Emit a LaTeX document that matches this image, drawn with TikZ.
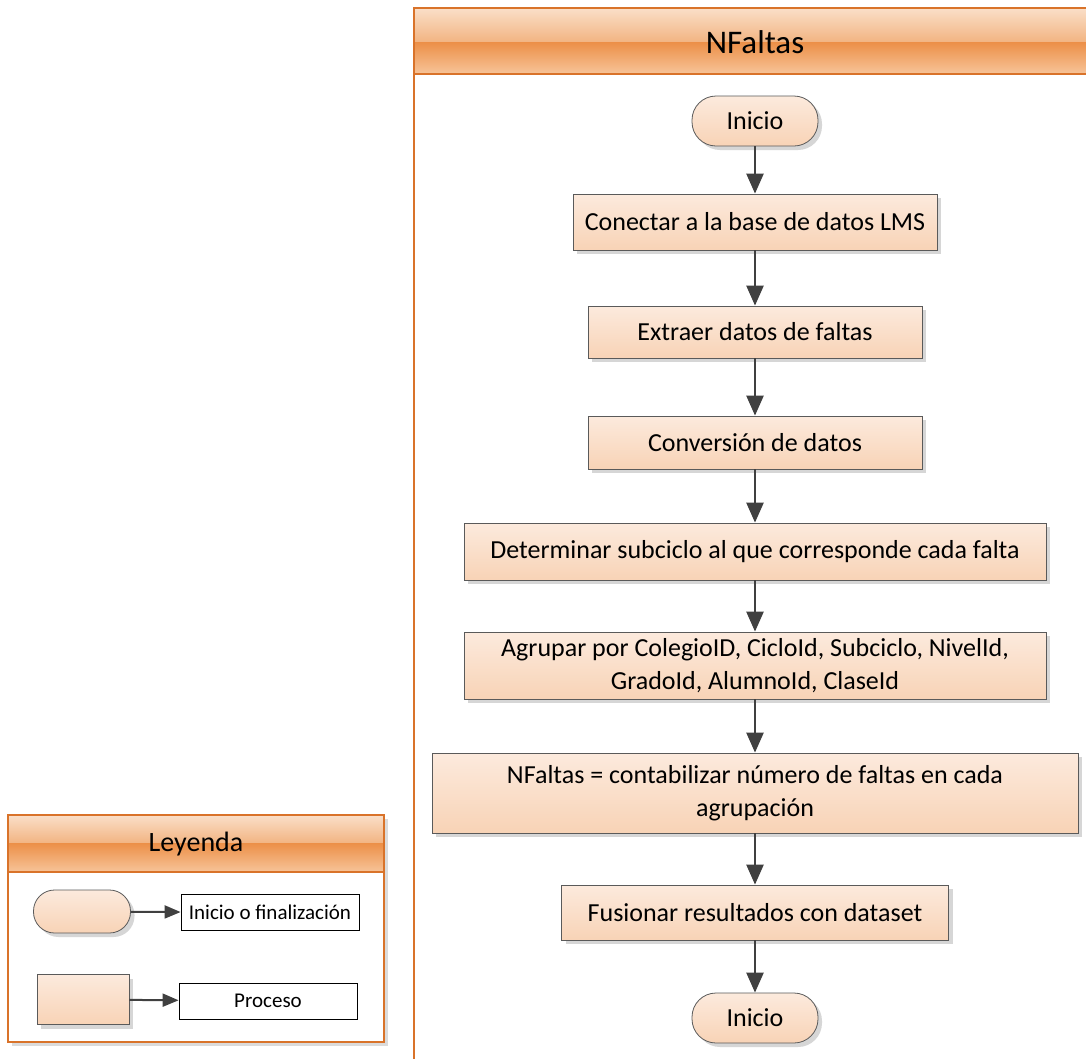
\documentclass[tikz,border=0pt]{standalone}
\usepackage{fontspec}
\setmainfont{Carlito}
\usetikzlibrary{arrows.meta,shadows}
\definecolor{boxtop}{HTML}{FCEADD}
\definecolor{boxbot}{HTML}{F8D3B6}
\definecolor{poolline}{HTML}{D9732A}
\definecolor{hdrA}{HTML}{FADFC8}
\definecolor{hdrB}{HTML}{F2B482}
\definecolor{hdrC}{HTML}{EC8F47}
\definecolor{hdrD}{HTML}{F7C499}
\definecolor{edgegray}{HTML}{404040}
\definecolor{framegray}{HTML}{5A5A5A}
\begin{document}
\begin{tikzpicture}[x=1pt,y=-1pt,
  proc/.style={draw=framegray, line width=0.8pt, top color=boxtop, bottom color=boxbot,
    align=center, font=\fontsize{26}{33}\selectfont, inner sep=0pt,
    general shadow={fill=black!16, shadow xshift=4pt, shadow yshift=-4pt}},
  term/.style={proc, rounded corners=24pt, minimum width=126pt, minimum height=50pt},
  flow/.style={draw=edgegray, line width=2.5pt, -{Triangle[width=17pt,length=20pt]}},
  lflow/.style={draw=edgegray, line width=2pt, -{Triangle[width=13pt,length=16pt]}},
  labelbox/.style={draw=black, line width=0.8pt, fill=white, minimum width=178pt,
    minimum height=36pt, inner sep=0pt, font=\fontsize{21}{25}\selectfont},
  hdrtext/.style={inner sep=0pt}
]
\useasboundingbox (0,0) rectangle (1086,1058);
\fill[white] (0,0) rectangle (1086,1058);

% ---- swimlane NFaltas ----
\shade[top color=hdrA, bottom color=hdrB] (414,8) rectangle (1092,42);
\shade[top color=hdrC, bottom color=hdrD] (414,42) rectangle (1092,74);
\draw[poolline, line width=2pt] (414,1062) -- (414,8) -- (1092,8);
\draw[poolline, line width=2pt] (414,74) -- (1092,74);
\node[hdrtext, font=\fontsize{33}{38}\selectfont] (pooltitle) at (755,42) {NFaltas};

% ---- flow ----
\node[term] (start) at (755,121) {Inicio};
\node[proc, minimum width=364pt, minimum height=56pt] (b1) at (755,222) {Conectar a la base de datos LMS};
\node[proc, minimum width=334pt, minimum height=52pt] (b2) at (755,332) {Extraer datos de faltas};
\node[proc, minimum width=334pt, minimum height=53pt] (b3) at (755,442.5) {Conversión de datos};
\node[proc, minimum width=582pt, minimum height=57pt] (b4) at (755,551.5) {Determinar subciclo al que corresponde cada falta};
\node[proc, minimum width=582pt, minimum height=67pt] (b5) at (755,665.5) {Agrupar por ColegioID, CicloId, Subciclo, NivelId,\\ GradoId, AlumnoId, ClaseId};
\node[proc, minimum width=646pt, minimum height=80pt] (b6) at (755,793) {NFaltas = contabilizar número de faltas en cada\\ agrupación};
\node[proc, minimum width=387pt, minimum height=55pt] (b7) at (755,912.5) {Fusionar resultados con dataset};
\node[term] (stop) at (755,1018) {Inicio};

\draw[flow] (start) -- (b1);
\draw[flow] (b1) -- (b2);
\draw[flow] (b2) -- (b3);
\draw[flow] (b3) -- (b4);
\draw[flow] (b4) -- (b5);
\draw[flow] (b5) -- (b6);
\draw[flow] (b6) -- (b7);
\draw[flow] (b7) -- (stop);

% ---- legend ----
\fill[black!14] (12,819) rectangle (388,1046);
\draw[poolline, line width=1.5pt, fill=white] (8,815) rectangle (384,1042);
\shade[top color=hdrA, bottom color=hdrB] (8,815) rectangle (384,843);
\shade[top color=hdrC, bottom color=hdrD] (8,843) rectangle (384,872);
\draw[poolline, line width=1.5pt] (8,815) rectangle (384,872);
\node[hdrtext, font=\fontsize{28}{32}\selectfont] (legtitle) at (196,844) {Leyenda};

\node[proc, rounded corners=21pt, minimum width=97pt, minimum height=43pt] (lterm) at (82,911.5) {};
\node[labelbox] (ltext1) at (270,912.5) {Inicio o finalización};
\node[proc, minimum width=92pt, minimum height=50pt] (lproc) at (83,999.5) {};
\node[labelbox] (ltext2) at (268,1001) {Proceso};

\draw[lflow] (lterm) -- (ltext1);
\draw[lflow] (lproc) -- (ltext2);
\end{tikzpicture}
\end{document}
